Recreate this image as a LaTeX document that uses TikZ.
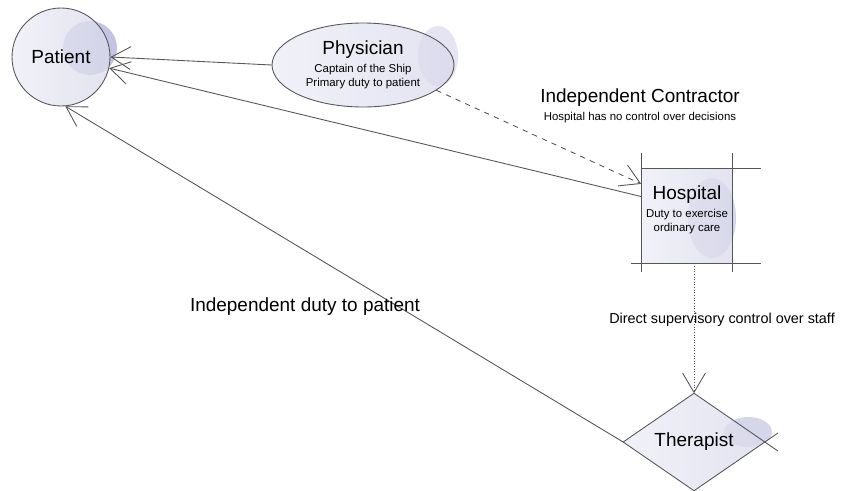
\documentclass[tikz,border=0pt]{standalone}
\usepackage{fontspec}
\setmainfont{Liberation Sans}
\usetikzlibrary{shapes.geometric,arrows.meta,positioning}
\definecolor{nodefill}{RGB}{236,236,246}
\definecolor{nodeshade}{RGB}{218,218,236}
\definecolor{blob}{RGB}{196,196,226}
\definecolor{edge}{RGB}{85,85,90}
\newcommand\bigtxt{\fontsize{10.8}{13}\selectfont}
\newcommand\midtxt{\fontsize{8.2}{10}\selectfont}
\newcommand\smalltxt{\fontsize{6.5}{8}\selectfont}
\begin{document}
\begin{tikzpicture}[x=0.02cm,y=-0.02cm,>={Straight Barb[length=11pt,width=13pt]},
   thing/.style={left color=nodefill,right color=nodeshade,fill opacity=0.75,text opacity=1,inner sep=0pt},
   link/.style={draw=edge,line width=0.5pt}]
   \useasboundingbox (0,0) rectangle (844,490);

   % 影
   \fill[blob] (90,48) circle (27);
   \fill[blob,opacity=0.45] (438,56) ellipse (20 and 30);
   \fill[blob,opacity=0.7] (712,218) ellipse (24 and 40);
   \fill[blob,opacity=0.7] (748,432) ellipse (24 and 15);

   % ノード
   \node[thing,link,circle,minimum size=1.96cm,font=\bigtxt] (pat) at (61,57) {Patient};
   \node[thing,link,ellipse,minimum width=3.64cm,minimum height=1.68cm,align=center,font=\smalltxt] (phys) at (363,65)
      {{\bigtxt Physician}\\[2pt] Captain of the Ship\\ Primary duty to patient};
   \node[thing,rectangle,minimum width=1.82cm,minimum height=1.88cm] (hosp) at (687,216) {};
   \node[align=center,inner sep=0pt,font=\smalltxt,below=9.5pt of hosp.north] (hosptxt)
      {{\bigtxt Hospital}\\[2pt] Duty to exercise\\ ordinary care};
   \node[thing,diamond,minimum width=2.82cm,minimum height=1.74cm,font=\bigtxt] (ther) at (694,442) {Therapist};

   % 枠線
   \draw[link,shorten >=-16pt] (hosp.north west) -- (hosp.north east);
   \draw[link,shorten <=-6pt,shorten >=-16pt] (hosp.south west) -- (hosp.south east);
   \draw[link,shorten <=-9pt,shorten >=-5pt] (hosp.north west) -- (hosp.south west);
   \draw[link,shorten <=-9pt,shorten >=-5pt] (hosp.north east) -- (hosp.south east);
   \draw[link] (ther.west) -- (ther.north);
   \draw[link,shorten >=-9pt] (ther.north) -- (ther.east);
   \draw[link,shorten >=-4pt] (ther.west) -- (ther.south);
   \draw[link,shorten <=-9pt,shorten >=-4pt] (ther.east) -- (ther.south);

   % 矢印
   \draw[link,->] (phys.west) -- (pat.east);
   \draw[link,->] (hosp.157) -- (pat.-13);
   \draw[link,->] (ther.west) -- (pat.-85);
   \draw[link,->,dashed] (phys.-19) -- (hosp.145);
   \draw[link,->,densely dotted] (hosp.south -| ther.north) -- (ther.north);

   % ラベル
   \node[font=\bigtxt] (contr) at (640,98) {Independent Contractor};
   \node[font=\smalltxt] (contrnote) at (640,118) {Hospital has no control over decisions};
   \node[font=\midtxt] (superv) at (722,320) {Direct supervisory control over staff};
   \node[font=\bigtxt] (indep) at (305,307) {Independent duty to patient};

\end{tikzpicture}
\end{document}
